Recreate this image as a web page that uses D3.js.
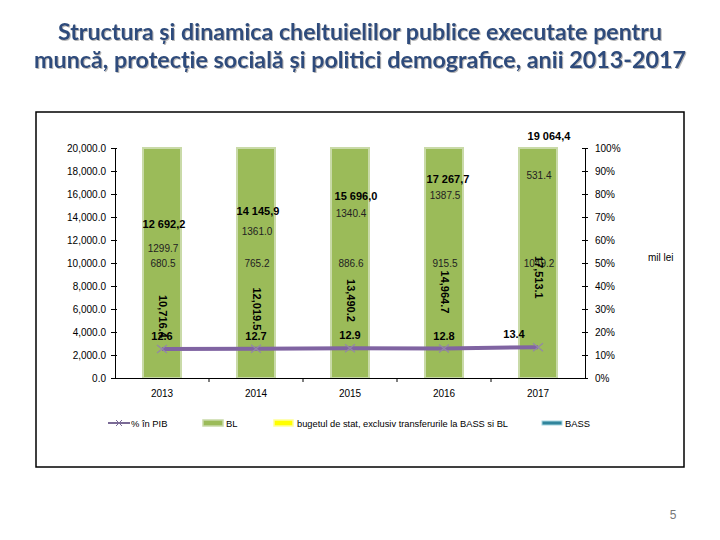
<!DOCTYPE html>
<html><head><meta charset="utf-8">
<script src="https://cdn.jsdelivr.net/npm/d3@7"></script>
<style>body{margin:0;background:#fff}svg{display:block}</style>
</head><body>
<svg id="c" width="720" height="540" font-family="'Liberation Sans',Arial,sans-serif"></svg>
<script>
// ---- data ----
const years = ["2013","2014","2015","2016","2017"];
const totals = [12692.2, 14145.9, 15696.0, 17267.7, 19064.4];
const blValues = [10716.4, 12019.5, 13490.2, 14964.7, 17513.1];
const stateBudget = [1299.7, 1361.0, 1340.4, 1387.5, 531.4];
const bassValues = [680.5, 765.2, 886.6, 915.5, 1049.2];
const pctGDP = [12.6, 12.7, 12.9, 12.8, 13.4];
const leftTicks = [0,2000,4000,6000,8000,10000,12000,14000,16000,18000,20000];
const rightTicks = [0,10,20,30,40,50,60,70,80,90,100];
const titleLines = ["Structura și dinamica cheltuielilor publice executate pentru",
                    "muncă, protecție socială și politici demografice, anii 2013-2017"];
const legendLabels = ["% în PIB","BL","bugetul de stat, exclusiv transferurile la BASS si BL","BASS"];

// ---- layout nudges ----
const totalDy = [-8,-4,-1,0,-23];
const totalDx = [2,2,6,4,11];
const pctDx = [0,0,0,0,-24];

const svg = d3.select("#c");
const green = "#9BBB59", greenEdge = "#C9DAA8", purple = "#8064A2";

const defs = svg.append("defs");
const f = defs.append("filter").attr("id","sh").attr("x","-5%").attr("y","-30%").attr("width","110%").attr("height","160%");
f.append("feDropShadow").attr("dx",1).attr("dy",1).attr("stdDeviation",0.6).attr("flood-color","#999").attr("flood-opacity",0.7);

// title
titleLines.forEach((t,i)=>{
  const w = i===0 ? 604 : 652;
  svg.append("text").attr("x",360).attr("y",40+i*28).attr("text-anchor","middle")
    .style("font-family","Lato, 'Open Sans', sans-serif").attr("font-weight","bold").attr("font-size",22)
    .attr("fill","#2E4C7C").attr("filter","url(#sh)")
    .attr("textLength",w).attr("lengthAdjust","spacingAndGlyphs").text(t);
});

// frame
svg.append("rect").attr("x",36).attr("y",112).attr("width",648).attr("height",355)
  .attr("fill","none").attr("stroke","#000").attr("stroke-width",1.5);

const x = d3.scaleBand().domain(years).range([115,585]);
const y = d3.scaleLinear().domain([0,20000]).range([378,148]);
const yp = d3.scaleLinear().domain([0,100]).range([378,148]);
const barW = 38;
const cx = d => x(d)+x.bandwidth()/2;

// bars (100% stacked total)
svg.append("g").selectAll("rect").data(years).join("rect")
  .attr("x",d=>cx(d)-barW/2).attr("width",barW)
  .attr("y",yp(100)).attr("height",yp(0)-yp(100))
  .attr("fill",green).attr("stroke",greenEdge).attr("stroke-width",2);

// left axis
const la = svg.append("g").attr("transform","translate(115,0)")
  .call(d3.axisLeft(y).tickValues(leftTicks).tickFormat(d3.format(",.1f")).tickSizeInner(4).tickSizeOuter(0).tickPadding(5));
la.selectAll("line").attr("x2",-4).attr("x1",2);
// right axis
const ra = svg.append("g").attr("transform","translate(585,0)")
  .call(d3.axisRight(yp).tickValues(rightTicks).tickFormat(d=>d+"%").tickSizeInner(3).tickSizeOuter(0).tickPadding(7));
ra.selectAll("line").attr("x1",-3);
// x axis
const xa = svg.append("g").attr("transform","translate(0,378)")
  .call(d3.axisBottom(x).tickSize(0).tickPadding(12));
xa.selectAll(".tick line").remove();
svg.append("g").selectAll("line").data(d3.range(years.length+1)).join("line")
  .attr("x1",i=>115+i*x.bandwidth()).attr("x2",i=>115+i*x.bandwidth())
  .attr("y1",378).attr("y2",i=> (i===0||i===years.length)?378:382).attr("stroke","#000");
[la,ra,xa].forEach(a=>{a.select(".domain").attr("stroke","#000");a.selectAll("line").attr("stroke","#000");
  a.selectAll("text").attr("font-size",10).attr("fill","#000").attr("font-family","'Liberation Sans',Arial,sans-serif");});

svg.append("text").attr("x",648).attr("y",261).attr("font-size",10).text("mil lei");

// line
const line = d3.line().x((d,i)=>cx(years[i])).y(d=>yp(d));
svg.append("path").datum(pctGDP).attr("d",line).attr("fill","none").attr("stroke",purple).attr("stroke-width",4);
const mk = svg.append("g").selectAll("g").data(pctGDP).join("g")
  .attr("transform",(d,i)=>`translate(${cx(years[i])},${yp(d)})`);
mk.append("path").attr("d","M-5,-4L5,4M-5,4L5,-4").attr("stroke","#9386A8").attr("stroke-width",1.2);

// labels
const fmtTot = v => d3.format(",.1f")(v).replace(/,/g," ").replace(".",",");
svg.append("g").selectAll("text").data(totals).join("text")
  .attr("x",(d,i)=>cx(years[i])+totalDx[i]).attr("y",(d,i)=>y(d)+totalDy[i]+4)
  .attr("text-anchor","middle").attr("font-size",11).attr("font-weight","bold").text(fmtTot);
svg.append("g").selectAll("text").data(stateBudget).join("text")
  .attr("x",(d,i)=>cx(years[i])+1).attr("y",(d,i)=>y(totals[i])+16+4)
  .attr("text-anchor","middle").attr("font-size",10).attr("fill","#222").text(d=>d.toFixed(1));
svg.append("g").selectAll("text").data(bassValues).join("text")
  .attr("x",(d,i)=>cx(years[i])+1).attr("y",y(10000)+4)
  .attr("text-anchor","middle").attr("font-size",10).attr("fill","#222").text(d=>d.toFixed(1));
svg.append("g").selectAll("text").data(blValues).join("text")
  .attr("transform",(d,i)=>`translate(${cx(years[i])-3},${y(d/2)}) rotate(90)`)
  .attr("text-anchor","middle").attr("font-size",11).attr("font-weight","bold").text(d3.format(",.1f"));
svg.append("g").selectAll("text").data(pctGDP).join("text")
  .attr("x",(d,i)=>cx(years[i])+pctDx[i]).attr("y",(d,i)=>yp(d)-9)
  .attr("text-anchor","middle").attr("font-size",11).attr("font-weight","bold").text(d=>d.toFixed(1));

// legend
const ly = 423;
const lg = svg.append("g").attr("font-size",9.4);
lg.append("line").attr("x1",108).attr("x2",130).attr("y1",ly).attr("y2",ly).attr("stroke","#7A6A96").attr("stroke-width",2);
lg.append("path").attr("d",`M${116},${ly-3}L${122},${ly+3}M${116},${ly+3}L${122},${ly-3}`).attr("stroke","#7A6A96");
lg.append("text").attr("x",131).attr("y",ly+4).text(legendLabels[0]);
lg.append("rect").attr("x",203).attr("y",ly-3).attr("width",20).attr("height",6).attr("fill",green).attr("stroke",greenEdge).attr("stroke-width",1.5);
lg.append("text").attr("x",226).attr("y",ly+4).text(legendLabels[1]);
lg.append("rect").attr("x",274).attr("y",ly-3).attr("width",19).attr("height",6).attr("fill","#FFFF00").attr("stroke","#FFFF99").attr("stroke-width",1.5);
lg.append("text").attr("x",297).attr("y",ly+4).attr("textLength",211).attr("lengthAdjust","spacingAndGlyphs").text(legendLabels[2]);
lg.append("rect").attr("x",542).attr("y",ly-2).attr("width",20).attr("height",4).attr("fill","#31859C").attr("stroke","#A5D5E0").attr("stroke-width",1);
lg.append("text").attr("x",565).attr("y",ly+4).text(legendLabels[3]);

svg.append("text").attr("x",673).attr("y",519).attr("text-anchor","middle").attr("font-size",12).attr("fill","#777").text("5");
</script>
</body></html>
